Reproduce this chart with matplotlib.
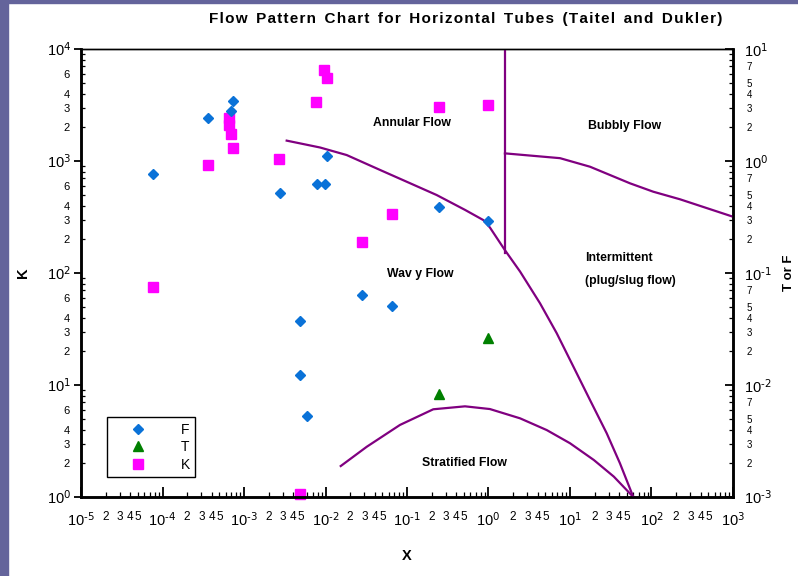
import matplotlib
matplotlib.use("Agg")
import matplotlib.pyplot as plt
import numpy as np
from matplotlib.ticker import LogLocator, FuncFormatter
from matplotlib.patches import Rectangle

plt.rcParams["font.family"] = ["Liberation Sans", "DejaVu Sans"]
plt.rcParams["axes.unicode_minus"] = False

# experimental points: X vs F, T (right axis) and K (left axis)
F_x = [7.6e-5, 3.65e-4, 7.4e-4, 6.9e-4, 2.74e-3, 7.8e-3, 9.9e-3, 1.04e-2,
       0.25, 1.0, 0.028, 0.065, 4.9e-3, 4.9e-3, 5.9e-3]
F_y = [0.76, 2.44, 3.43, 2.78, 0.515, 0.62, 0.627, 1.11,
       0.386, 0.29, 0.0636, 0.0504, 0.0375, 0.0124, 0.0053]

T_x = [1.0, 0.25]
T_y = [0.0264, 0.0083]

K_x = [7.6e-5, 3.65e-4, 6.55e-4, 6.55e-4, 6.9e-4, 7.4e-4, 2.71e-3, 9.66e-3,
       1.035e-2, 7.7e-3, 0.248, 1.0, 0.065, 0.028, 4.9e-3]
K_y = [74.5, 921, 2406, 2096, 1753, 1306, 1042, 6494,
       5546, 3363, 3053, 3162, 334, 188, 1.06]

# boundary curves of the Taitel-Dukler map
# A: annular/intermittent vs stratified (F vs X)
A_x = [3.34e-3, 8.57e-3, 0.0182, 0.0467, 0.0991, 0.231, 0.515, 0.863, 1.04, 1.59,
       2.44, 4.29, 6.87, 11.0, 17.6, 28.2, 41.0, 59.8]
A_y = [1.52, 1.32, 1.13, 0.832, 0.653, 0.497, 0.366, 0.297, 0.255, 0.160,
       0.103, 0.0536, 0.029, 0.0146, 7.34e-3, 3.71e-3, 2.0e-3, 1.0e-3]
# B: annular vs intermittent (vertical line, F vs X)
B_x = [1.59, 1.59]
B_y = [10.0, 0.151]
# C: stratified smooth vs wavy (K vs X)
C_x = [0.01538, 0.0321, 0.082, 0.210, 0.515, 1.04, 2.44, 5.18, 10.0, 19.6, 34.5, 59.8]
C_y = [1.89, 2.81, 4.40, 6.07, 6.45, 6.1, 5.04, 3.96, 3.02, 2.14, 1.52, 1.0]
# D: intermittent vs bubbly (T vs X)
D_x = [1.59, 7.54, 17.6, 54.5, 105, 224, 1000]
D_y = [1.17, 1.06, 0.889, 0.632, 0.532, 0.455, 0.318]

line_c = "#800080"


def minor_fmt(keep):
    def f(v, pos):
        d = int(round(v / 10 ** np.floor(np.log10(v) + 1e-9)))
        return str(d) if d in keep else ""
    return FuncFormatter(f)


major_fmt = FuncFormatter(
    lambda v, pos: r"$\mathregular{10^{\text{%d}}}$" % round(np.log10(v)))

fig = plt.figure(figsize=(7.98, 5.76), dpi=100)
# slide background strips
fig.patches.append(Rectangle((0, 0), 8 / 798, 1, transform=fig.transFigure,
                             color="#64649b", zorder=0))
fig.patches.append(Rectangle((0, 1 - 3 / 576), 1, 3 / 576, transform=fig.transFigure,
                             color="#64649b", zorder=0))

ax = fig.add_axes([81 / 798, 1 - 497 / 576, 652 / 798, 448 / 576])
ax.set_xscale("log")
ax.set_yscale("log")
ax.set_xlim(1e-5, 1e3)
ax.set_ylim(1, 1e4)

ax2 = ax.twinx()
ax2.set_yscale("log")
ax2.set_ylim(1e-3, 1e1)

ax.plot(C_x, C_y, color=line_c, lw=1.6)
ax2.plot(A_x, A_y, color=line_c, lw=1.6)
ax2.plot(B_x, B_y, color=line_c, lw=1.6)
ax2.plot(D_x, D_y, color=line_c, lw=1.6)

hK, = ax.plot(K_x, K_y, "s", color="#ff00ff", ms=6.5, ls="none", label="K", clip_on=False)
hF, = ax2.plot(F_x, F_y, "D", color="#0a72d8", ms=5.5, ls="none", label="F")
hT, = ax2.plot(T_x, T_y, "^", color="#008000", ms=7, ls="none", label="T")

# x axis ticks
ax.xaxis.set_major_locator(LogLocator(base=10, numticks=20))
ax.xaxis.set_minor_locator(LogLocator(base=10, subs=np.arange(2, 10), numticks=100))
ax.xaxis.set_major_formatter(major_fmt)
ax.xaxis.set_minor_formatter(minor_fmt({2, 3, 4, 5}))
ax.tick_params(axis="x", which="major", direction="in", length=7, width=1.3,
               labelsize=10.5, pad=10)
ax.tick_params(axis="x", which="minor", direction="in", length=3.5, width=0.9,
               labelsize=8.5, pad=10)

# left axis ticks
ax.yaxis.set_major_locator(LogLocator(base=10, numticks=20))
ax.yaxis.set_minor_locator(LogLocator(base=10, subs=np.arange(2, 10), numticks=100))
ax.yaxis.set_major_formatter(major_fmt)
ax.yaxis.set_minor_formatter(minor_fmt({2, 3, 4, 6}))
ax.tick_params(axis="y", which="major", direction="out", length=5, width=1.3,
               labelsize=10.5, pad=2)
ax.tick_params(axis="y", which="minor", direction="in", length=3, width=0.9,
               labelsize=8, pad=8)

# right axis ticks
ax2.yaxis.set_major_locator(LogLocator(base=10, numticks=20))
ax2.yaxis.set_minor_locator(LogLocator(base=10, subs=np.arange(2, 10), numticks=100))
ax2.yaxis.set_major_formatter(major_fmt)
ax2.yaxis.set_minor_formatter(minor_fmt({2, 3, 4, 5, 7}))
ax2.tick_params(axis="y", which="major", direction="in", length=6, width=1.3,
                labelsize=10.5, pad=8)
ax2.tick_params(axis="y", which="minor", direction="in", length=3, width=0.9,
                labelsize=7, pad=10)

for a in (ax, ax2):
    for side in ("left", "bottom", "right"):
        a.spines[side].set_linewidth(1.8)
    a.spines["top"].set_linewidth(1.0)

ax.set_xlabel("X", fontsize=10.5, fontweight="bold")
ax.xaxis.set_label_coords(0.5, -0.116)
ax.set_ylabel("K", fontsize=10.5, fontweight="bold")
ax.yaxis.set_label_coords(-0.078, 0.5)
ax2.set_ylabel("T or F", fontsize=9.5, fontweight="bold")
ax2.yaxis.set_label_coords(1.077, 0.5)

title = "Flow Pattern Chart for Horizontal Tubes (Taitel and Dukler)"
fig.text(466 / 798, 1 - 19 / 576, "\u200a".join(title).replace(" \u200a", "\u2009 "),
         ha="center", va="center", fontsize=11, fontweight="bold")

txt = dict(transform=ax.transAxes, fontsize=8.8, fontweight="bold", va="center")
ax.text(0.507, 0.834, "Annular Flow", ha="center", **txt)
ax.text(0.834, 0.829, "Bubbly Flow", ha="center", **txt)
ax.text(0.520, 0.497, "Wav y Flow", ha="center", **txt)
ax.text(0.7735, 0.533, "Intermittent", ha="left", **txt)
ax.text(0.773, 0.482, "(plug/slug flow)", ha="left", **txt)
ax.text(0.588, 0.075, "Stratified Flow", ha="center", **txt)

leg = ax2.legend(handles=[hF, hT, hK], loc="lower left", bbox_to_anchor=(0.04, 0.044),
                 borderaxespad=0, fontsize=10, handlelength=3.6, handletextpad=1.3,
                 borderpad=0.4, labelspacing=0.25, fancybox=False, framealpha=1,
                 edgecolor="black")
leg.get_frame().set_linewidth(1.0)

fig.savefig("out.png", dpi=100)
